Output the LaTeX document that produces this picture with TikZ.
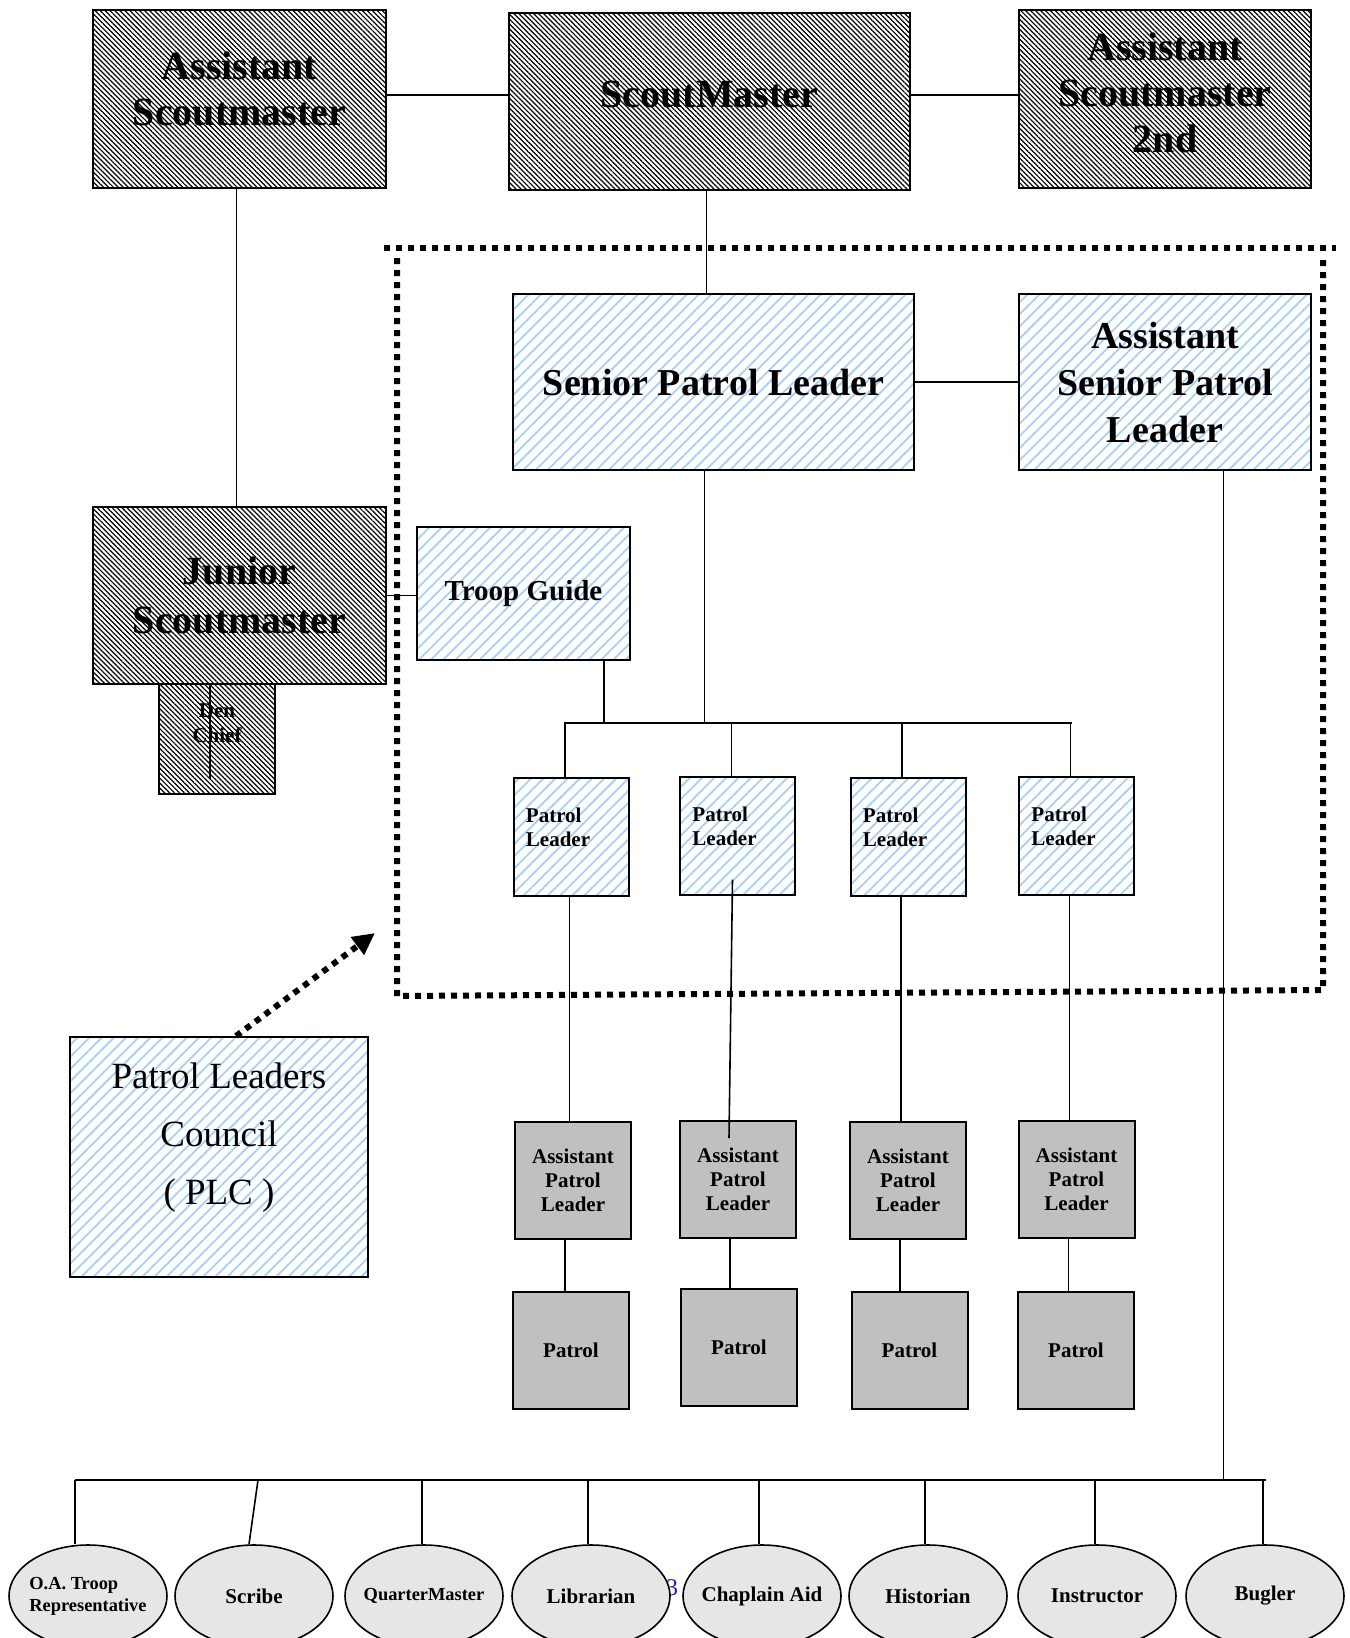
\documentclass[tikz,border=0pt]{standalone}
\usepackage{fontspec}
\setmainfont{Liberation Serif}
\usetikzlibrary{positioning, shapes.geometric, patterns.meta, arrows.meta}

\definecolor{hatchblue}{HTML}{A8D0F5}
\definecolor{boxgray}{HTML}{C0C0C0}
\definecolor{ovalgray}{HTML}{E6E6E6}
\definecolor{pagenum}{HTML}{1F1FB4}

\tikzset{
  adult/.style={draw, line width=1pt, pattern={Lines[angle=-45,distance=1.75pt,line width=0.6pt]},
    pattern color=black, align=center, inner sep=0pt, font=\bfseries\fontsize{20}{23}\selectfont},
  youth/.style={draw, line width=1pt, pattern={Lines[angle=45,distance=4.3pt,line width=0.9pt]},
    pattern color=hatchblue, align=center, inner sep=0pt, font=\bfseries\fontsize{19}{23.5}\selectfont},
  patrolbox/.style={youth, minimum width=57.5pt, minimum height=59pt, align=left,
    font=\bfseries\fontsize{10.5}{12}\selectfont},
  assist/.style={draw, line width=1pt, fill=boxgray, minimum width=58pt, minimum height=58.5pt,
    align=center, inner sep=0pt, font=\bfseries\fontsize{10.5}{12}\selectfont},
  office/.style={ellipse, draw, line width=0.8pt, fill=ovalgray, minimum width=79pt, minimum height=51pt,
    inner sep=0pt, align=center, font=\bfseries\fontsize{10.5}{12}\selectfont},
  link/.style={line width=0.8pt},
  plcframe/.style={line width=3pt, dash pattern=on 3pt off 3pt},
  plcdots/.style={line width=3pt, dash pattern=on 3pt off 3pt},
}
\newcommand{\ovaltext}[1]{\makebox[40pt]{#1}}
\newcommand{\pltext}{Patrol\\Leader\rule{13pt}{0pt}\\[-2.6pt]}

\begin{document}
\begin{tikzpicture}[x=0.5pt, y=-0.5pt]
    \useasboundingbox (0,0) rectangle (1349,1638);

    % Adult leaders
    \node[adult, minimum width=146.5pt, minimum height=89pt] (asm) at (239.5,99) {Assistant\\Scoutmaster\\[-12.6pt]};
    \node[adult, minimum width=200.5pt, minimum height=88.5pt] (sm) at (709.5,101.5) {ScoutMaster\\[-15.7pt]};
    \node[adult, minimum width=146pt, minimum height=89pt] (asm2) at (1165,99) {Assistant\\Scoutmaster\\2nd\\[-16.7pt]};
    \node[adult, minimum width=146.5pt, minimum height=88.5pt, font=\bfseries\fontsize{20}{24.5}\selectfont] (jsm) at (239.5,595.5) {Junior\\Scoutmaster};
    \node[adult, minimum width=58pt, minimum height=55pt, font=\bfseries\fontsize{10.5}{12.5}\selectfont] (den) at (217,739) {Den\\Chief\\[3.2pt]};

    % Youth leaders
    \node[youth, minimum width=200.5pt, minimum height=88pt] (spl) at (713.5,382) {Senior Patrol Leader};
    \node[youth, minimum width=146pt, minimum height=88pt] (aspl) at (1165,382) {Assistant\\Senior Patrol\\Leader};
    \node[youth, minimum width=106.5pt, minimum height=66.5pt, font=\bfseries\fontsize{14.5}{17}\selectfont] (tg) at (523.5,593.5) {Troop Guide};

    \node[patrolbox] (pl1) at (571,837) {\pltext};
    \node[patrolbox] (pl2) at (737.5,835.5) {\pltext};
    \node[patrolbox] (pl3) at (908,837) {\pltext};
    \node[patrolbox] (pl4) at (1076.5,835.5) {\pltext};

    \node[assist] (apl1) at (573,1180.5) {Assistant\\Patrol\\Leader};
    \node[assist] (apl2) at (738,1179.5) {Assistant\\Patrol\\Leader};
    \node[assist] (apl3) at (908,1180.5) {Assistant\\Patrol\\Leader};
    \node[assist] (apl4) at (1076.5,1179.5) {Assistant\\Patrol\\Leader};

    \node[assist] (pat1) at (571,1350.5) {Patrol};
    \node[assist] (pat2) at (739,1347.5) {Patrol};
    \node[assist] (pat3) at (909.5,1350.5) {Patrol};
    \node[assist] (pat4) at (1076,1350.5) {Patrol};

    \node[youth, minimum width=149pt, minimum height=120pt, font=\fontsize{18.5}{29}\selectfont] (plc) at (219,1157) {Patrol Leaders\\Council\\( PLC )\\[-6pt]};

    % PLC frame
    \draw[plcframe] (384,248) -- (1336,248);
    \draw[plcframe] (397,258) -- (397,996) -- (1323,990) -- (1323,258);
    \coordinate (plctip) at (375,933);
    \draw[plcdots, -{Triangle[length=11pt,width=10.5pt]}] ([xshift=8.5pt]plc.north) -- (plctip);

    % Connections
    \coordinate (busl) at (564,723);
    \coordinate (busr) at (1072,723);
    \coordinate (basel) at (75,1480);
    \coordinate (baser) at (1266,1480);

    \draw[link] ([yshift=2pt]asm.east) -- ([yshift=2pt]asm.east -| sm.west);
    \draw[link] ([yshift=3.25pt]sm.east) -- ([yshift=3.25pt]sm.east -| asm2.west);
    \draw[link] ([xshift=-1.5pt]sm.south) -- ([xshift=-1.5pt]sm.south |- spl.north);
    \draw[link] (spl.east) -- (spl.east -| aspl.west);
    \draw[link] ([xshift=-1.5pt]asm.south) -- ([xshift=-1.5pt]asm.south |- jsm.north);
    \draw[link] (jsm.east) -- (jsm.east -| tg.west);
    \draw[link] ([xshift=-3.5pt]den.north) -- ([xshift=-3.5pt,yshift=8pt]den.south);
    \draw[link] ([xshift=-13.5pt]tg.south east) -- ([xshift=-13.5pt]tg.south east |- busl);
    \draw[link] ([xshift=-4.5pt]spl.south) -- ([xshift=-4.5pt]spl.south |- busl);
    \draw[link] (busl) -- (busr);
    \foreach \p in {pl1,pl2,pl3,pl4}
        \draw[link] ([xshift=-3pt]\p.north) -- ([xshift=-3pt]\p.north |- busl);

    \draw[link] ([xshift=-0.75pt]pl1.south) -- ([xshift=-0.75pt]pl1.south |- apl1.north);
    \draw[link] ([xshift=-2.5pt,yshift=8pt]pl2.south) -- ([xshift=-4.5pt,yshift=-9pt]apl2.north);
    \draw[link] ([xshift=-3.5pt]pl3.south) -- ([xshift=-3.5pt]pl3.south |- apl3.north);
    \draw[link] ([xshift=-3.5pt]pl4.south) -- ([xshift=-3.5pt]pl4.south |- apl4.north);
    \foreach \a/\p in {apl1/pat1,apl2/pat2,apl3/pat3,apl4/pat4}
        \draw[link] ([xshift=-4pt]\a.south) -- ([xshift=-4pt]\a.south |- \p.north);

    % Troop offices
    \node[text=pagenum, font=\fontsize{12}{14}\selectfont] (pgnum) at (672,1588) {3};

    \node[office, font=\bfseries\fontsize{9.2}{11}\selectfont] (oa) at (88,1596) {\ovaltext{\begin{tabular}{@{}l@{}}O.A. Troop\\Representative\end{tabular}}};
    \node[office] (scribe) at (254,1596) {\ovaltext{Scribe}};
    \node[office, font=\bfseries\fontsize{9.2}{11}\selectfont] (qm) at (424,1596) {\ovaltext{QuarterMaster}};
    \node[office] (lib) at (591,1596) {\ovaltext{Librarian}};
    \node[office] (chap) at (762,1596) {\ovaltext{Chaplain Aid}};
    \node[office] (hist) at (928,1596) {\ovaltext{Historian}};
    \node[office] (inst) at (1097,1596) {\ovaltext{Instructor}};
    \node[office] (bug) at (1265,1596) {\ovaltext{Bugler}};

    \draw[link] ([xshift=29.3pt]aspl.south) -- ([xshift=29.3pt]aspl.south |- baser);
    \draw[link] (basel) -- (baser);
    \draw[link] ([xshift=-6.5pt]oa.north) -- ([xshift=-6.5pt]oa.north |- basel);
    \draw[link] ([xshift=-2.5pt]scribe.north) -- ([xshift=2pt]scribe.north |- basel);
    \foreach \o/\dx in {qm/-1pt,lib/-1.5pt,chap/-1.5pt,hist/-1.5pt,inst/-1pt,bug/-1pt}
        \draw[link] ([xshift=\dx]\o.north) -- ([xshift=\dx]\o.north |- basel);
\end{tikzpicture}
\end{document}
